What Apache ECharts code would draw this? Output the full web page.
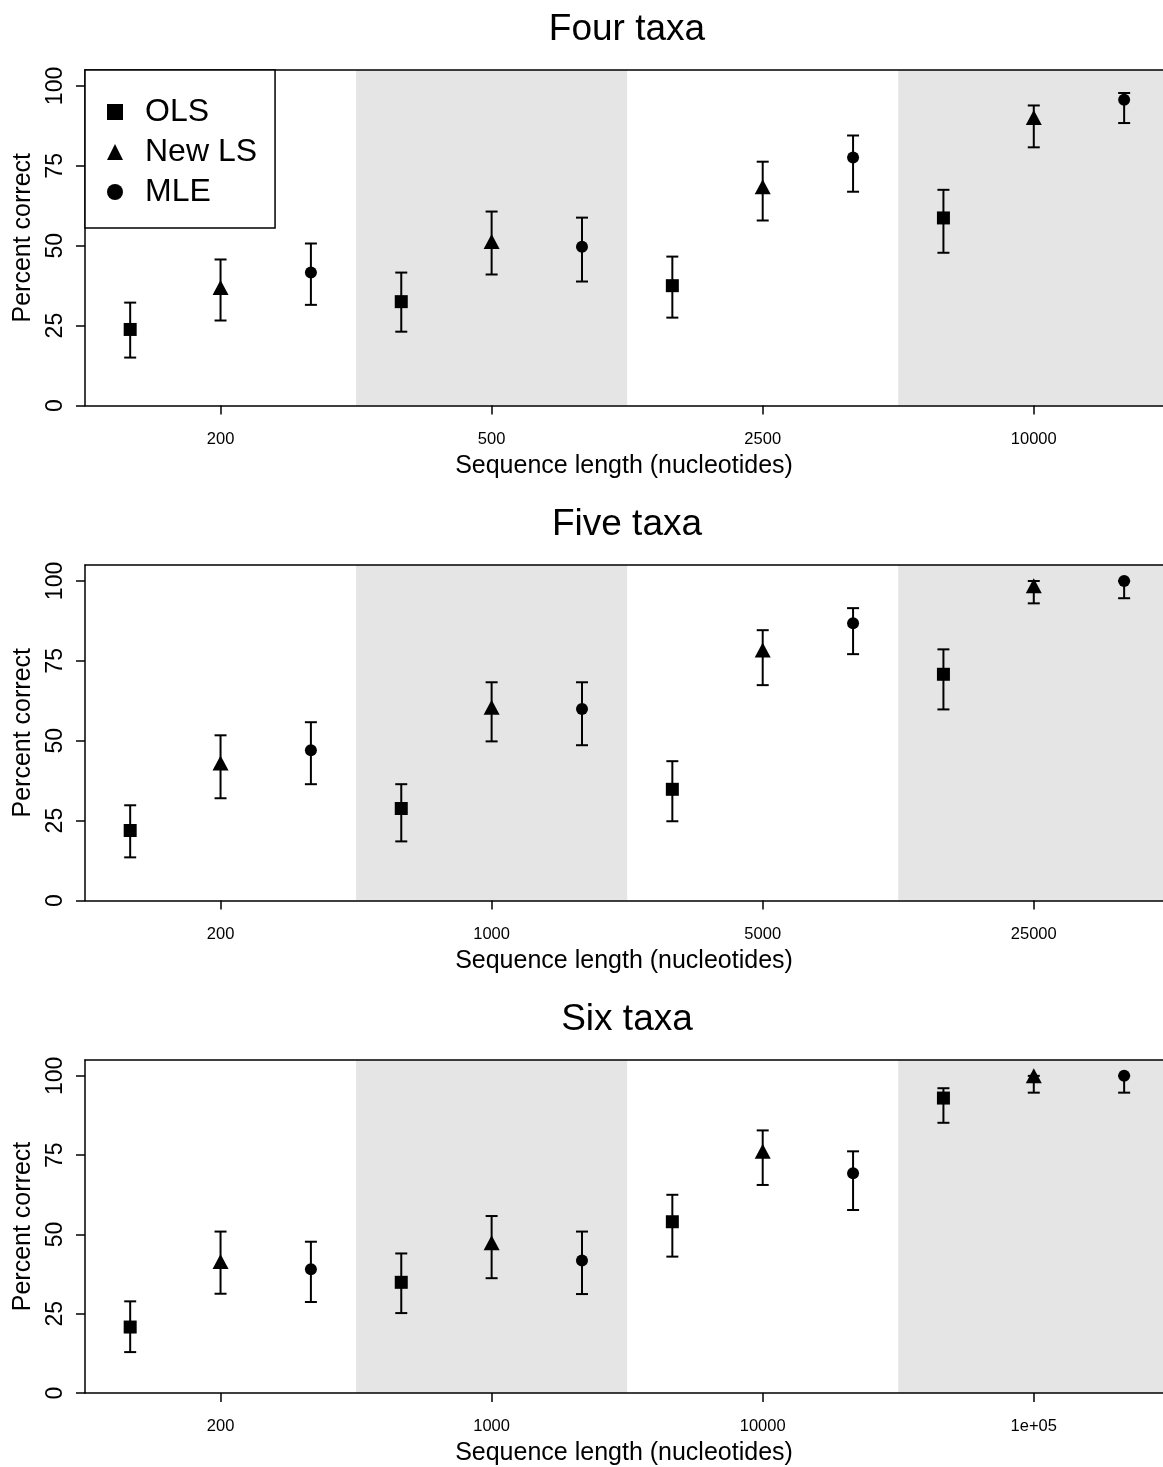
<!DOCTYPE html>
<html>
<head>
<meta charset="utf-8">
<script src="https://cdn.jsdelivr.net/npm/echarts@6/dist/echarts.min.js"></script>
<style>html,body{margin:0;padding:0;background:#fff;overflow:hidden;}#chart{width:1163px;height:1467px;}</style>
</head>
<body>
<div id="chart"></div>
<script>
// ---- data ----
const panelTitles = ['Four taxa', 'Five taxa', 'Six taxa'];
const methods = ['OLS', 'New LS', 'MLE'];
const positions = [1, 2, 3, 4, 5, 6, 7, 8, 9, 10, 11, 12];
const tickPositions = [2, 5, 8, 11];
const tickLabelsFour = ['200', '500', '2500', '10000'];
const tickLabelsFive = ['200', '1000', '5000', '25000'];
const tickLabelsSix = ['200', '1000', '10000', '1e+05'];
const shadeBands = [[3.5, 6.5], [9.5, 12.5]];
const yTicks = [0, 25, 50, 75, 100];

const meanFour = [23.8, 36.9, 41.6, 32.5, 51.3, 49.7, 37.5, 68.5, 77.6, 58.7, 90.1, 95.7];
const lowFour  = [15.0, 26.6, 31.5, 23.1, 41.0, 38.8, 27.5, 57.9, 66.9, 47.8, 80.8, 88.4];
const highFour = [32.2, 45.7, 50.7, 41.6, 60.7, 58.8, 46.6, 76.3, 84.5, 67.5, 93.9, 97.8];

const meanFive = [21.9, 43.0, 47.0, 28.8, 60.5, 59.9, 34.8, 78.4, 86.8, 70.8, 98.5, 100];
const lowFive  = [13.5, 32.0, 36.4, 18.5, 49.8, 48.6, 24.8, 67.4, 77.1, 59.8, 93.0, 94.6];
const highFive = [29.8, 51.7, 55.8, 36.4, 68.3, 68.3, 43.6, 84.6, 91.5, 78.6, 100, 100];

const meanSix = [20.8, 41.5, 39.0, 34.9, 47.4, 41.8, 54.0, 76.2, 69.3, 93.0, 100, 100];
const lowSix  = [12.9, 31.3, 28.7, 25.2, 36.2, 31.2, 43.0, 65.6, 57.7, 85.2, 94.7, 94.7];
const highSix = [28.9, 50.9, 47.7, 44.0, 55.8, 50.9, 62.5, 82.8, 76.2, 96.1, 100, 100];

// ---- build ----
const panels = [
  {title: panelTitles[0], ticks: tickLabelsFour, mean: meanFour, low: lowFour, high: highFour},
  {title: panelTitles[1], ticks: tickLabelsFive, mean: meanFive, low: lowFive, high: highFive},
  {title: panelTitles[2], ticks: tickLabelsSix, mean: meanSix, low: lowSix, high: highSix}
];
const FONT = '"Liberation Sans", Arial, Helvetica, sans-serif';
const symbols = {'OLS': ['rect', 13], 'New LS': ['triangle', [16, 15]], 'MLE': ['circle', 12]};
const OFFSET = 495;
const X_MIN = 0.5, X_MAX = 12.43; // the plot region continues past the right edge of the image
const frameLine = {show: true, onZero: false, lineStyle: {color: '#000', width: 1.5}};

const option = {
  animation: false,
  backgroundColor: '#fff',
  textStyle: {fontFamily: FONT, color: '#000'},
  title: [], grid: [], xAxis: [], yAxis: [], series: [],
  legend: {
    data: methods,
    orient: 'vertical',
    left: 85, top: 70,
    padding: [26, 18, 20, 22],
    itemWidth: 16, itemHeight: 16, itemGap: 8,
    borderColor: '#000', borderWidth: 1.5, backgroundColor: '#fff',
    textStyle: {fontFamily: FONT, fontSize: 32, lineHeight: 32, color: '#000', padding: [0, 0, 0, 17]},
    selectedMode: false,
    z: 20
  }
};

panels.forEach((p, i) => {
  const top = 70 + i * OFFSET;
  option.title.push({
    text: p.title, left: 622, top: 6 + i * OFFSET, textAlign: 'center',
    textStyle: {fontFamily: FONT, fontSize: 37, fontWeight: 'normal', color: '#000'}
  });
  option.grid.push({left: 85, right: 0, top: top, height: 335.5, show: false});
  // bottom axis
  option.xAxis.push({
    type: 'value', gridIndex: i, position: 'bottom', min: X_MIN, max: X_MAX, z: 10,
    name: 'Sequence length (nucleotides)', nameLocation: 'middle', nameGap: 48,
    nameTextStyle: {fontFamily: FONT, fontSize: 25, color: '#000'},
    axisLine: frameLine,
    axisTick: {show: true, length: 9, lineStyle: {color: '#000', width: 1.5}, customValues: tickPositions},
    axisLabel: {
      show: true, margin: 25, fontFamily: FONT, fontSize: 16.5, color: '#000',
      customValues: tickPositions,
      formatter: (v) => p.ticks[tickPositions.indexOf(v)] || ''
    },
    splitLine: {show: false}
  });
  // top frame line
  option.xAxis.push({
    type: 'value', gridIndex: i, position: 'top', min: X_MIN, max: X_MAX, z: 10,
    axisLine: frameLine, axisTick: {show: false}, axisLabel: {show: false}, splitLine: {show: false}
  });
  option.yAxis.push({
    type: 'value', gridIndex: i, min: 0, max: 105, z: 10,
    name: 'Percent correct', nameLocation: 'middle', nameGap: 47, nameRotate: 90,
    nameTextStyle: {fontFamily: FONT, fontSize: 25, color: '#000'},
    axisLine: frameLine,
    axisTick: {show: true, length: 9, lineStyle: {color: '#000', width: 1.5}, customValues: yTicks},
    axisLabel: {show: true, rotate: 90, margin: 18, fontFamily: FONT, fontSize: 23, color: '#000', customValues: yTicks},
    splitLine: {show: false}
  });
  const xi = 2 * i;
  // shading
  option.series.push({
    type: 'line', xAxisIndex: xi, yAxisIndex: i, data: [], z: 1, silent: true,
    markArea: {
      silent: true,
      itemStyle: {color: '#e5e5e5'},
      data: shadeBands.map(b => [{xAxis: b[0]}, {xAxis: b[1]}])
    }
  });
  // error bars
  option.series.push({
    type: 'custom', xAxisIndex: xi, yAxisIndex: i, z: 3, silent: true,
    data: positions.map((x, j) => [x, p.low[j], p.high[j]]),
    encode: {x: 0, y: [1, 2]},
    renderItem: function (params, api) {
      const x = api.value(0), lo = api.value(1), hi = api.value(2);
      const a = api.coord([x, lo]), b = api.coord([x, hi]);
      const w = 6;
      const st = {stroke: '#000', lineWidth: 2};
      return {type: 'group', children: [
        {type: 'line', shape: {x1: a[0], y1: a[1], x2: b[0], y2: b[1]}, style: st},
        {type: 'line', shape: {x1: a[0] - w, y1: a[1], x2: a[0] + w, y2: a[1]}, style: st},
        {type: 'line', shape: {x1: b[0] - w, y1: b[1], x2: b[0] + w, y2: b[1]}, style: st}
      ]};
    }
  });
  // points
  methods.forEach((m, k) => {
    option.series.push({
      type: 'scatter', name: m, xAxisIndex: xi, yAxisIndex: i, z: 4,
      symbol: symbols[m][0], symbolSize: symbols[m][1],
      itemStyle: {color: '#000', opacity: 1},
      data: positions.map((x, j) => [x, p.mean[j]]).filter((d, j) => j % 3 === k)
    });
  });
});

const chart = echarts.init(document.getElementById('chart'), null, {renderer: 'canvas'});
chart.setOption(option);
</script>
</body>
</html>
